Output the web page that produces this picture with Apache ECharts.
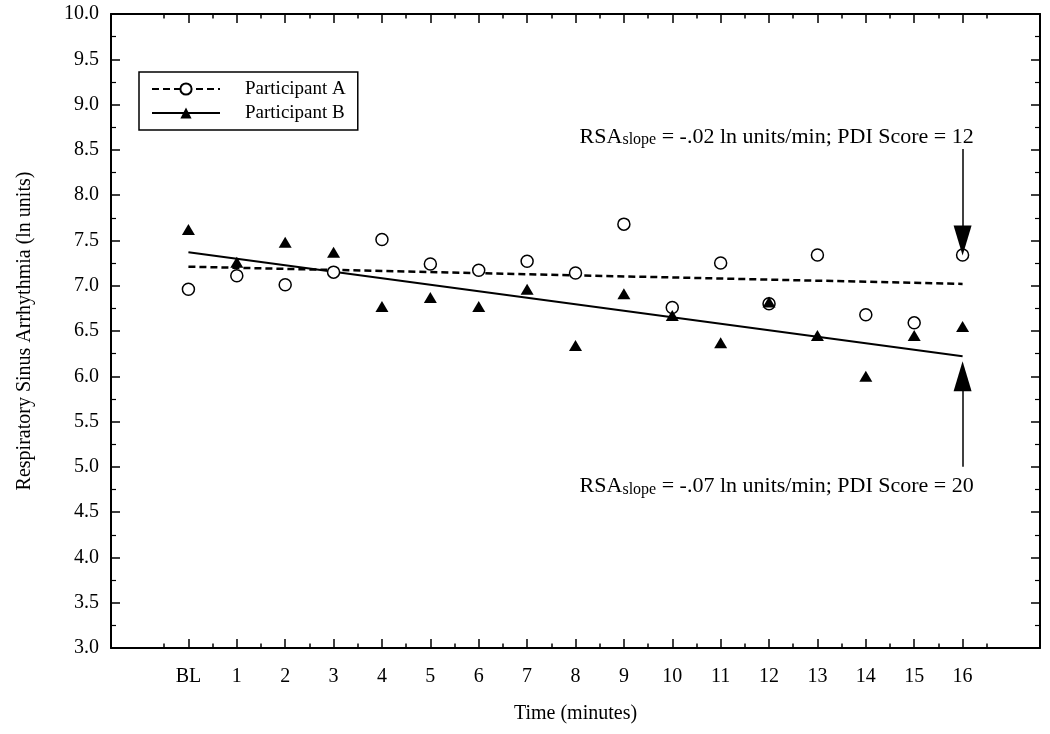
<!DOCTYPE html>
<html>
<head>
<meta charset="utf-8">
<script src="https://cdn.jsdelivr.net/npm/echarts@6/dist/echarts.min.js"></script>
<style>
html,body{margin:0;padding:0;background:#fff;}
#chart{width:1050px;height:734px;}
</style>
</head>
<body>
<div id="chart"></div>
<script>
// ---- data ----
var times = [0,1,2,3,4,5,6,7,8,9,10,11,12,13,14,15,16];
var tickLabels = ['BL','1','2','3','4','5','6','7','8','9','10','11','12','13','14','15','16'];
var minorTimes = [-0.5,0.5,1.5,2.5,3.5,4.5,5.5,6.5,7.5,8.5,9.5,10.5,11.5,12.5,13.5,14.5,15.5,16.5];
var rsaA = [6.96, 7.11, 7.01, 7.15, 7.51, 7.24, 7.17, 7.27, 7.14, 7.68, 6.76, 7.25, 6.80, 7.34, 6.68, 6.59, 7.34];
var rsaB = [7.62, 7.26, 7.48, 7.37, 6.77, 6.87, 6.77, 6.96, 6.34, 6.91, 6.67, 6.37, 6.82, 6.45, 6.00, 6.45, 6.55];
var trendX = [0, 16];
var trendA = [7.21, 7.02];
var trendB = [7.37, 6.22];
var annotA = {x: 16.23, y: 8.65, slope: '-.02', pdi: '12'};
var annotB = {x: 16.23, y: 4.79, slope: '-.07', pdi: '20'};
var arrowA = [[16, 8.51], [16, 7.50]];
var arrowB = [[16, 5.00], [16, 6.00]];

var FONT = 'Liberation Serif';
function pairs(xs, ys){ return xs.map(function(x,i){ return [x, ys[i]]; }); }

var chart = echarts.init(document.getElementById('chart'));

function xAx(pos, vals, len, showLine, showLabel){
  return {
    type:'value', position:pos, min:-1.6, max:17.6,
    axisLine:{show:showLine, onZero:false, lineStyle:{color:'#000', width:2}},
    axisTick:{show:true, inside:true, length:len, customValues:vals, lineStyle:{color:'#000', width:1.5}},
    axisLabel:{show:showLabel, customValues:vals, margin:19,
      formatter:function(v){ return tickLabels[Math.round(v)]; },
      fontFamily:FONT, fontSize:20, color:'#000'},
    splitLine:{show:false}
  };
}
function yAx(pos, showLabel){
  return {
    type:'value', position:pos, min:3, max:10, interval:0.5,
    axisLine:{show:true, onZero:false, lineStyle:{color:'#000', width:2}},
    axisTick:{show:true, inside:true, length:9, lineStyle:{color:'#000', width:1.5}},
    minorTick:{show:true, splitNumber:2, length:5, lineStyle:{color:'#000', width:1.2}},
    axisLabel:{show:showLabel, margin:12, formatter:function(v){ return v.toFixed(1); },
      fontFamily:FONT, fontSize:20, color:'#000'},
    splitLine:{show:false}, minorSplitLine:{show:false}
  };
}

var xMain = xAx('bottom', times, 9, true, true);
xMain.name = 'Time (minutes)';
xMain.nameLocation = 'middle';
xMain.nameGap = 56;
xMain.nameTextStyle = {fontFamily:FONT, fontSize:20, color:'#000'};

var yMain = yAx('left', true);
yMain.name = 'Respiratory Sinus Arrhythmia (ln units)';
yMain.nameLocation = 'middle';
yMain.nameGap = 76;
yMain.nameTextStyle = {fontFamily:FONT, fontSize:20, color:'#000'};

function annotLabel(a){
  return '{n|RSA}{s|slope}{n| = ' + a.slope + ' ln units/min; PDI Score = ' + a.pdi + '}';
}
var rich = {
  n:{fontFamily:FONT, fontSize:22, color:'#000', verticalAlign:'bottom', lineHeight:23},
  s:{fontFamily:FONT, fontSize:16, color:'#000', verticalAlign:'bottom', lineHeight:23}
};

var option = {
  animation:false,
  backgroundColor:'#fff',
  grid:{left:111, right:10, top:14, bottom:86, containLabel:false},
  xAxis:[
    xMain,
    xAx('bottom', minorTimes, 4.5, false, false),
    xAx('top', times, 9, true, false),
    xAx('top', minorTimes, 4.5, false, false)
  ],
  yAxis:[ yMain, yAx('right', false) ],
  legend:{
    data:['Participant A','Participant B'],
    orient:'vertical', left:139, top:72,
    itemWidth:68, itemHeight:14, itemGap:4,
    padding:[7,12,7,12],
    borderColor:'#000', borderWidth:1.5,
    textStyle:{fontFamily:FONT, fontSize:19, color:'#000', padding:[0,0,0,20], lineHeight:20},
    selectedMode:false
  },
  series:[
    {name:'Participant A', type:'line', data:pairs(trendX, trendA),
     symbol:'emptyCircle', symbolSize:12, showSymbol:false,
     itemStyle:{color:'#000', borderColor:'#000', borderWidth:1.5},
     lineStyle:{color:'#000', width:2.5, type:[7,4]}, z:2},
    {name:'Participant B', type:'line', data:pairs(trendX, trendB),
     symbol:'triangle', symbolSize:[13,11], showSymbol:false,
     itemStyle:{color:'#000'},
     lineStyle:{color:'#000', width:2}, z:2},
    {name:'Participant A', type:'scatter', data:pairs(times, rsaA),
     symbol:'circle', symbolSize:12,
     itemStyle:{color:'#fff', borderColor:'#000', borderWidth:1.5, opacity:1}, z:3},
    {name:'Participant B', type:'scatter', data:pairs(times, rsaB),
     symbol:'triangle', symbolSize:[13,11],
     itemStyle:{color:'#000', opacity:1}, z:4},
    {name:'annot', type:'scatter', silent:true, symbolSize:0,
     data:[[annotA.x, annotA.y],[annotB.x, annotB.y]],
     itemStyle:{color:'#000', opacity:1},
     label:{show:true, position:'left', distance:0, color:'#000', opacity:1,
       formatter:function(p){ return annotLabel(p.dataIndex === 0 ? annotA : annotB); },
       rich:rich},
     markLine:{silent:true, symbol:['none','triangle'], symbolSize:[18,30],
       label:{show:false},
       lineStyle:{color:'#000', width:1.5, type:'solid', opacity:1},
       itemStyle:{color:'#000', opacity:1},
       data:[
         [{coord:arrowA[0]},{coord:arrowA[1]}],
         [{coord:arrowB[0]},{coord:arrowB[1]}]
       ]}
    }
  ]
};
chart.setOption(option);
</script>
</body>
</html>
